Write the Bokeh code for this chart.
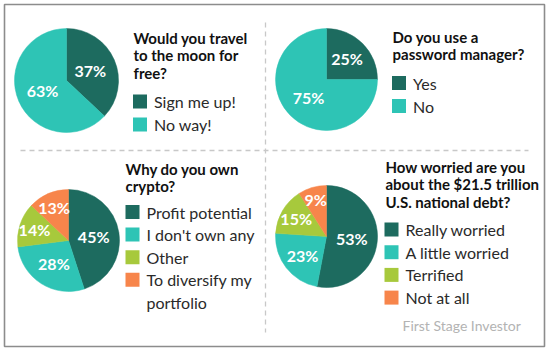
import math
from bokeh.plotting import figure
from bokeh.models import Range1d, ColumnDataSource
from bokeh.core.properties import value
from bokeh.embed import file_html
from bokeh.resources import INLINE

# ---------------- data ----------------
q1_title = "Would you travel\nto the moon for\nfree?"
q1_labels = ["Sign me up!", "No way!"]
q1_values = [37, 63]

q2_title = "Do you use a\npassword manager?"
q2_labels = ["Yes", "No"]
q2_values = [25, 75]

q3_title = "Why do you own\ncrypto?"
q3_labels = ["Profit potential", "I don't own any", "Other", "To diversify my\nportfolio"]
q3_values = [45, 28, 14, 13]

q4_title = "How worried are you\nabout the $21.5 trillion\nU.S. national debt?"
q4_labels = ["Really worried", "A little worried", "Terrified", "Not at all"]
q4_values = [53, 23, 15, 9]

credit = "First Stage Investor"

# ---------------- style ----------------
W, H = 550, 351
COLORS = ["#1d6b5f", "#2ec4b5", "#a7c93c", "#f7854b"]
FONT = "Lato"


def Y(v):
    return H - v


p = figure(width=W, height=H, x_range=Range1d(0, W), y_range=Range1d(0, H),
           output_backend="svg", toolbar_location=None, min_border=0)
p.axis.visible = False
p.grid.visible = False
p.outline_line_color = None
p.background_fill_color = "white"
p.border_fill_color = "white"

# outer frame
p.quad(left=[4], right=[544], bottom=[Y(346)], top=[Y(4)], fill_color=None,
       line_color="#8c8c8c", line_width=1.6)
# dividers
p.line(x=[20, 528], y=[Y(150), Y(150)], line_color="#c8c8c8", line_width=1.3, line_dash="5 4")
p.line(x=[265, 265], y=[Y(22), Y(332)], line_color="#c8c8c8", line_width=1.3, line_dash="5 4")


def panel(values, labels, title, cx, cy, r, tx, ty, lx, ly, lstep):
    total = float(sum(values))
    fracs = [v / total for v in values]
    starts, ends, lxs, lys = [], [], [], []
    acc = 0.0
    for f in fracs:
        a0 = math.pi / 2 - 2 * math.pi * acc
        a1 = math.pi / 2 - 2 * math.pi * (acc + f)
        starts.append(a0)
        ends.append(a1)
        mid = (a0 + a1) / 2
        rr = r * max(0.5, 0.87 - 1.2 * f)
        lxs.append(cx + rr * math.cos(mid))
        lys.append(Y(cy) + rr * math.sin(mid))
        acc += f
    cols = COLORS[:len(values)]
    src = ColumnDataSource(dict(x=[cx] * len(values), y=[Y(cy)] * len(values),
                                s=starts, e=ends, c=cols))
    p.wedge(x="x", y="y", radius=r, start_angle="s", end_angle="e", direction="clock",
            fill_color="c", line_color="c", line_width=0.5, source=src)
    p.text(x=lxs, y=lys, text=["%d%%" % v for v in values], text_color="white",
           text_font=value(FONT), text_font_style="bold", text_font_size="16px",
           text_align="center", text_baseline="middle")
    # title
    tl = title.split("\n")
    p.text(x=[tx] * len(tl), y=[Y(ty + 17.5 * i) for i in range(len(tl))], text=tl,
           text_color="#111111", text_font=value(FONT), text_font_style="bold",
           text_font_size="15px", text_align="left", text_baseline="middle")
    # legend
    row = 0
    for i, lab in enumerate(labels):
        yy = ly + lstep * row
        p.rect(x=[lx], y=[Y(yy)], width=14, height=14, fill_color=COLORS[i], line_color=None)
        for j, part in enumerate(lab.split("\n")):
            p.text(x=[lx + 14], y=[Y(yy + lstep * j)], text=[part], text_color="#2a2a2a",
                   text_font=value(FONT), text_font_size="16px",
                   text_align="left", text_baseline="middle")
        row += len(lab.split("\n"))


panel(q1_values, q1_labels, q1_title, 66, 80, 52, 133, 37, 139.5, 101, 23)
panel(q2_values, q2_labels, q2_title, 326, 79, 51, 392, 36, 398.5, 82.5, 23)
panel(q3_values, q3_labels, q3_title, 68, 240, 51, 125, 168, 132, 211.5, 22.6)
panel(q4_values, q4_labels, q4_title, 326, 236, 51, 385, 166, 391, 229, 22.7)

p.text(x=[402], y=[Y(325)], text=[credit], text_color="#b3b3b3", text_font=value(FONT),
       text_font_size="14px", text_align="left", text_baseline="middle")

open("out.html", "w").write(file_html(p, INLINE))
